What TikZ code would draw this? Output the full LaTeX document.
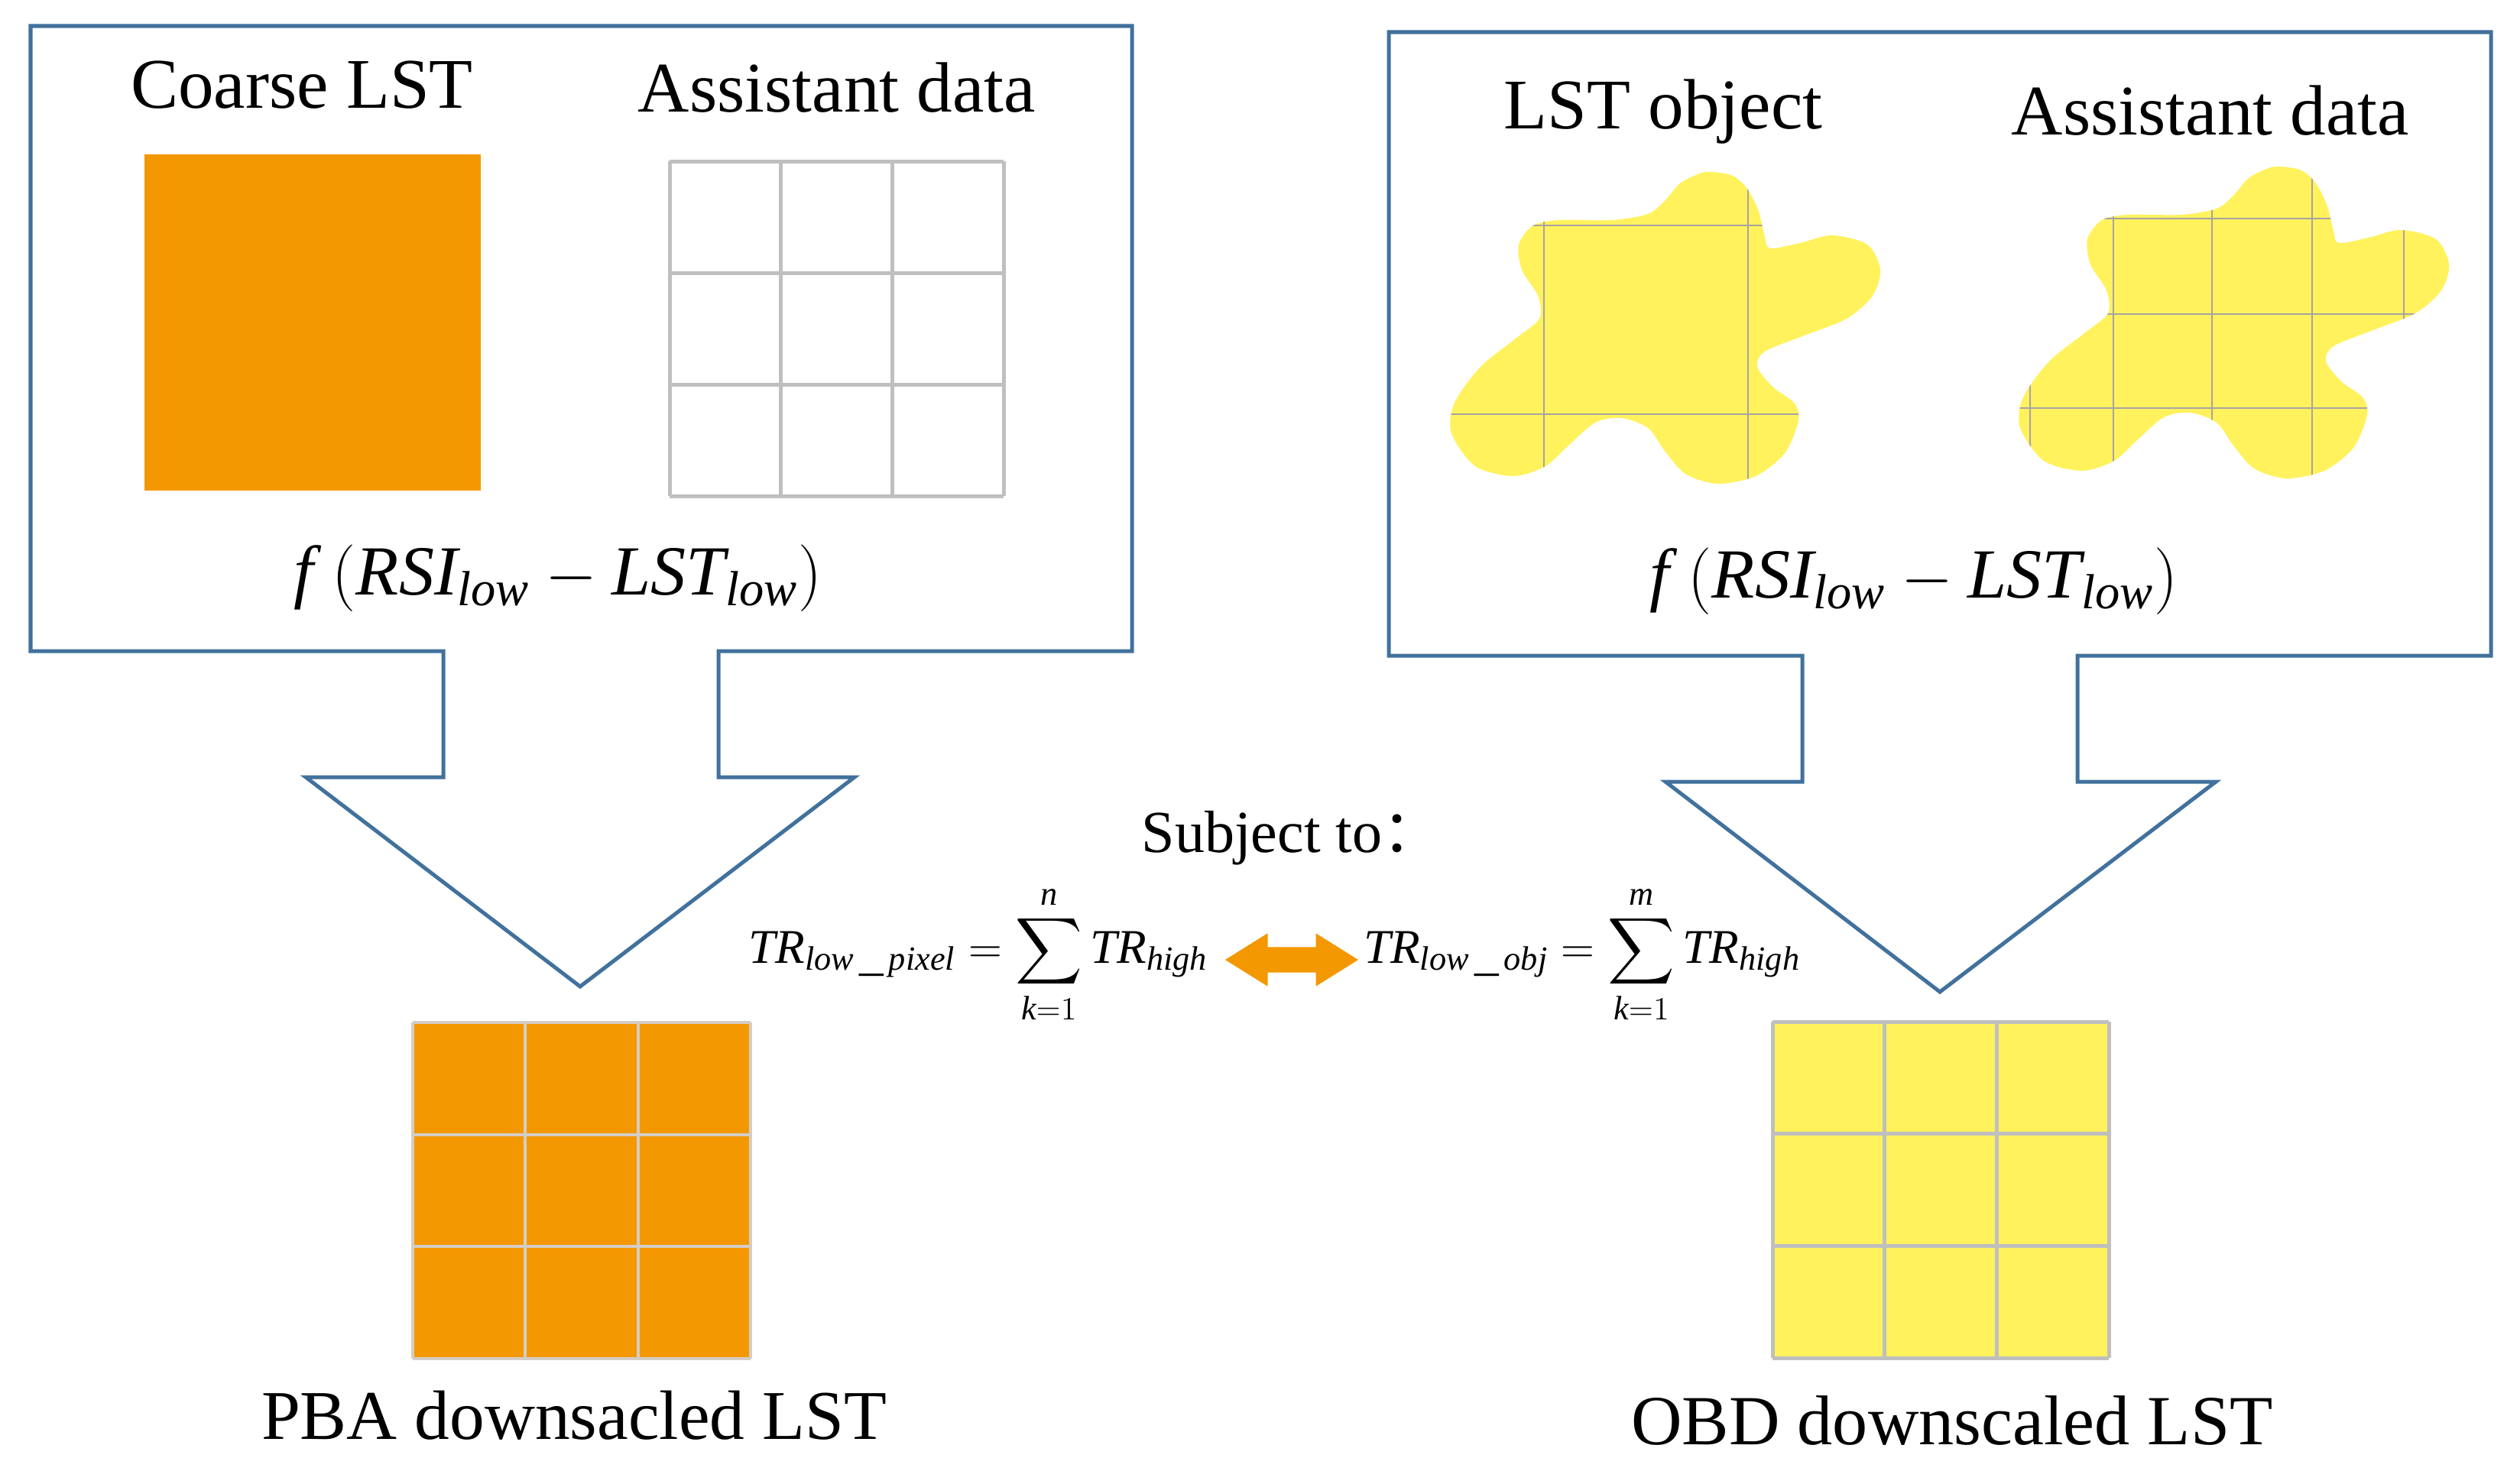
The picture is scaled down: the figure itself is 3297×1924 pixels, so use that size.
\documentclass[tikz,border=0pt]{standalone}
\usepackage{exscale}
\usepackage{fontspec}
\setmainfont{Liberation Serif}
\newfontfamily\cjk{Noto Sans CJK SC}
\usetikzlibrary{shapes.arrows}

\definecolor{lstorange}{RGB}{243,152,0}
\definecolor{lstyellow}{RGB}{255,242,92}
\definecolor{frameblue}{RGB}{65,113,156}
\definecolor{cellgray}{RGB}{191,191,191}
\definecolor{lightcell}{RGB}{212,205,198}
\definecolor{blobline}{RGB}{168,162,165}

% outline of the LST object (left copy, pixel units)
\def\blobshape{plot[smooth cycle, tension=0.5] coordinates {(2240,225) (2267,230) (2286,247) (2301,277) (2309,310) (2316,325) (2355,318) (2397,308) (2443,320) (2460,353) (2450,387) (2416,417) (2358,440) (2309,460) (2299,480) (2320,507) (2347,527) (2353,550) (2335,593) (2297,623) (2247,633) (2205,620) (2178,590) (2156,560) (2121,547) (2087,553) (2052,583) (2022,610) (1980,623) (1930,610) (1899,567) (1903,527) (1937,480) (1983,443) (2014,417) (2012,387) (1991,353) (1987,320) (2006,295) (2041,288) (2110,288) (2156,280) (2178,263) (2198,240) (2224,227)}}

\begin{document}
\begin{tikzpicture}[x=0.01cm, y=-0.01cm]
	% Styles for frames, cells and labels
	\tikzset{
		calloutframe/.style={draw=frameblue, line width=0.05cm, line join=miter},
		cellline/.style={draw=cellgray, line width=0.05cm},
		fillcell/.style={draw=lightcell, line width=0.04cm},
		objline/.style={draw=blobline, line width=0.025cm},
		headtxt/.style={anchor=base, inner sep=0pt, font=\fontsize{26.5}{30}\selectfont},
		formtxt/.style={anchor=base, inner sep=0pt, font=\fontsize{26.2}{32}\selectfont},
		eqtxt/.style={anchor=base, inner sep=0pt, font=\fontsize{18}{22}\selectfont}
	}
	\useasboundingbox (0,0) rectangle (3297,1924);
	
	% Draw the two framed callout arrows
	\draw[calloutframe] (40,34) -- (1481,34) -- (1481,852) -- (940,852) -- (940,1017) -- (1118,1017) -- (759,1291) -- (400,1017) -- (580,1017) -- (580,852) -- (40,852) -- cycle;
	\draw[calloutframe] (1817,42) -- (3259,42) -- (3259,858) -- (2718,858) -- (2718,1023) -- (2899,1023) -- (2538,1298) -- (2179,1023) -- (2358,1023) -- (2358,858) -- (1817,858) -- cycle;
	
	% Left panel: coarse pixel and assistant grid
	\node[headtxt] (coarseT) at (395,141) {Coarse LST};
	\node[headtxt] (assistL) at (1095,146) {Assistant data};
	\fill[lstorange] (189,202) rectangle (629,642);
	\foreach \i in {0,...,3} {
		\draw[cellline] (876+\i*145.67,211) -- ++(0,438);
		\draw[cellline] (876,211+\i*146) -- ++(437,0);
	}
	\node[formtxt] (fL) at (730,778) {$\mathit{f}\;(\mathit{RSI}_{\mathit{low}}-\mathit{LST}_{\mathit{low}})$};
	
	% Right panel: LST object and assistant data over it
	\node[headtxt] (objT) at (2176,168) {LST object};
	\node[headtxt] (assistR) at (2892,176) {Assistant data};
	\fill[lstyellow] \blobshape;
	\begin{scope}
		\clip \blobshape;
		\foreach \gx in {2020,2287} \draw[objline] (\gx,150) -- (\gx,700);
		\foreach \gy in {295,542} \draw[objline] (1850,\gy) -- (2500,\gy);
	\end{scope}
	\begin{scope}[shift={(744,-7)}]
		\fill[lstyellow] \blobshape;
		\clip \blobshape;
		\foreach \gx in {1912,2021,2150,2281,2401} \draw[objline] (\gx,150) -- (\gx,700);
		\foreach \gy in {293,418,541} \draw[objline] (1850,\gy) -- (2500,\gy);
	\end{scope}
	\node[formtxt] (fR) at (2504,782) {$\mathit{f}\;(\mathit{RSI}_{\mathit{low}}-\mathit{LST}_{\mathit{low}})$};
	
	% Constraint between the two results
	\node[anchor=base, inner sep=0pt, font=\fontsize{22.2}{26}\selectfont] (subj) at (1690,1115) {Subject to\cjk{：}};
	\node[eqtxt] (eqL) at (1280,1260) {$\mathit{TR}_{\mathit{low}\,\_\,\mathit{pixel}}=\displaystyle\sum_{\mathit{k}=1}^{\mathit{n}}\mathit{TR}_{\mathit{high}}$};
	\node[eqtxt] (eqR) at (2070,1260) {$\mathit{TR}_{\mathit{low}\,\_\,\mathit{obj}}=\displaystyle\sum_{\mathit{k}=1}^{\mathit{m}}\mathit{TR}_{\mathit{high}}$};
	\node[double arrow, fill=lstorange, inner xsep=0pt, inner ysep=0.16cm, minimum width=0.68cm, minimum height=1.74cm, double arrow head extend=0.18cm, double arrow tip angle=64] (link) at (1690,1256) {};
	
	% Downscaled results
	\fill[lstorange] (540,1338) rectangle (982,1778);
	\fill[lstyellow] (2319,1337) rectangle (2759,1777);
	\foreach \i in {0,...,3} {
		\draw[fillcell] (540+\i*147.33,1338) -- ++(0,440);
		\draw[fillcell] (540,1338+\i*146.67) -- ++(442,0);
		\draw[cellline] (2319+\i*146.67,1337) -- ++(0,440);
		\draw[cellline] (2319,1337+\i*146.67) -- ++(440,0);
	}
	\node[anchor=base, inner sep=0pt, font=\fontsize{26}{30}\selectfont] (pbaT) at (751,1883) {PBA downsacled LST};
	\node[anchor=base, inner sep=0pt, font=\fontsize{26.2}{30}\selectfont] (obdT) at (2554,1890) {OBD downscaled LST};
\end{tikzpicture}
\end{document}
